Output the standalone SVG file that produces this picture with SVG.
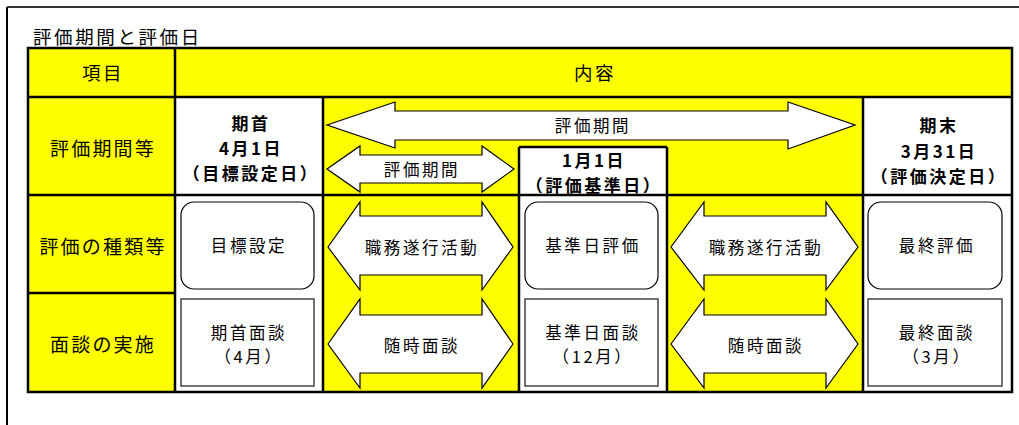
<svg xmlns="http://www.w3.org/2000/svg" width="1019" height="425" viewBox="0 0 1019 425">
<style>
text{font-family:"Noto Sans CJK JP","Noto Sans CJK SC",sans-serif;fill:#000;text-anchor:middle;dominant-baseline:central}
.hd{font-size:18.5px;letter-spacing:2.5px}
.lb{font-size:19px;letter-spacing:2.2px}
.bd{font-size:17px;font-weight:bold;letter-spacing:2.5px}
.tx{font-size:16.5px;letter-spacing:2.6px}
.yl{fill:#FFFF00}
.wh{fill:#FFFFFF}
.grid{stroke:#000;stroke-width:2.5;fill:none}
.arw{fill:#FFFFFF;stroke:#000;stroke-width:1.2;stroke-linejoin:miter}
.rr{fill:#FFFFFF;stroke:#000;stroke-width:1.2}
.sq{fill:#FFFFFF;stroke:#444;stroke-width:1.5}
</style>
<rect x="0" y="0" width="1019" height="425" fill="#FFFFFF"/>
<g id="frame">
<line x1="7" y1="7" x2="1019" y2="7" stroke="#333" stroke-width="2"/>
<line x1="7" y1="7" x2="7" y2="425" stroke="#000" stroke-width="2"/>
</g>
<g id="title">
<text x="33" y="36" style="font-size:18.5px;letter-spacing:2.6px;text-anchor:start">評価期間と評価日</text>
</g>
<g id="table">
<rect class="yl" x="28" y="48" width="984" height="344"/>
<rect class="wh" x="175" y="97" width="148" height="295"/>
<rect class="wh" x="519" y="147" width="148" height="245"/>
<rect class="wh" x="863" y="97" width="149" height="295"/>
<path class="grid" d="M28,48 H1012 V392 H28 Z M28,97 H1012 M28,195 H1012 M28,293 H175 M175,48 V392 M323,97 V392 M519,195 V392 M667,195 V392 M863,97 V392 M519,147 H667 M519,147 V195 M667,147 V195"/>
</g>
<g id="row-header">
<text class="hd" x="103" y="72">項目</text>
<text class="hd" x="595" y="72">内容</text>
</g>
<g id="label-period">
<text class="lb" x="103" y="147">評価期間等</text>
</g>
<g id="label-type">
<text class="lb" x="103" y="245">評価の種類等</text>
</g>
<g id="label-interview">
<text class="lb" x="103" y="343">面談の実施</text>
</g>
<g id="start-date">
<text class="bd" x="251" y="122">期首</text>
<text class="bd" x="251" y="147">4月1日</text>
<text class="bd" x="251" y="172">（目標設定日）</text>
</g>
<g id="base-date">
<text class="bd" x="594" y="159">1月1日</text>
<text class="bd" x="594" y="184">（評価基準日）</text>
</g>
<g id="end-date">
<text class="bd" x="939" y="124">期末</text>
<text class="bd" x="939" y="150">3月31日</text>
<text class="bd" x="939" y="175">（評価決定日）</text>
</g>
<g id="period-full">
<path class="arw" d="M327,125 L395,102 L395,111 L788,111 L788,102 L855,125 L788,149 L788,140 L395,140 L395,148 Z"/>
<text class="tx" x="593" y="125">評価期間</text>
</g>
<g id="period-first">
<path class="arw" d="M327,169 L360,146 L360,155 L482,155 L482,146 L514,169 L482,192 L482,183 L360,183 L360,192 Z"/>
<text class="tx" x="422" y="169">評価期間</text>
</g>
<g id="goal-setting">
<rect class="rr" x="181" y="202" width="133" height="87" rx="13"/>
<text class="tx" x="249" y="245">目標設定</text>
</g>
<g id="activity-1">
<path class="arw" d="M328,247 L360,202 L360,216 L482,216 L482,202 L513,247 L482,290 L482,275 L360,275 L360,290 Z"/>
<text class="tx" x="422" y="247">職務遂行活動</text>
</g>
<g id="base-eval">
<rect class="rr" x="525" y="202" width="133" height="87" rx="13"/>
<text class="tx" x="593" y="245">基準日評価</text>
</g>
<g id="activity-2">
<path class="arw" d="M671,247 L704,202 L704,216 L826,216 L826,202 L858,247 L826,290 L826,275 L704,275 L704,290 Z"/>
<text class="tx" x="766" y="247">職務遂行活動</text>
</g>
<g id="final-eval">
<rect class="rr" x="868" y="202" width="134" height="87" rx="13"/>
<text class="tx" x="937" y="245">最終評価</text>
</g>
<g id="start-interview">
<rect class="sq" x="181" y="299" width="133" height="87"/>
<text class="tx" x="249" y="332">期首面談</text>
<text class="tx" x="249" y="356">（4月）</text>
</g>
<g id="anytime-1">
<path class="arw" d="M328,344 L360,299 L360,315 L482,315 L482,299 L513,344 L482,388 L482,373 L360,373 L360,388 Z"/>
<text class="tx" x="422" y="345">随時面談</text>
</g>
<g id="base-interview">
<rect class="sq" x="525" y="299" width="133" height="87"/>
<text class="tx" x="593" y="332">基準日面談</text>
<text class="tx" x="593" y="356">（12月）</text>
</g>
<g id="anytime-2">
<path class="arw" d="M671,344 L704,299 L704,315 L826,315 L826,299 L858,344 L826,388 L826,373 L704,373 L704,388 Z"/>
<text class="tx" x="766" y="345">随時面談</text>
</g>
<g id="final-interview">
<rect class="sq" x="868" y="299" width="134" height="87"/>
<text class="tx" x="937" y="332">最終面談</text>
<text class="tx" x="937" y="356">（3月）</text>
</g>
<g id="connectors"/>
</svg>
